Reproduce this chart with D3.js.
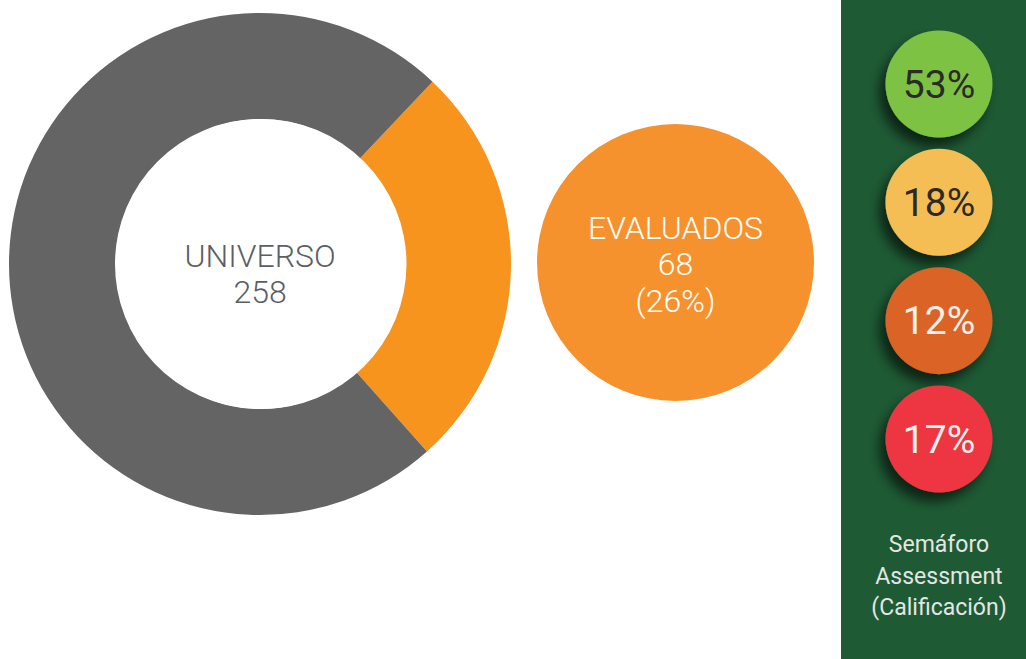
<!DOCTYPE html>
<html><head><meta charset="utf-8">
<script src="https://cdn.jsdelivr.net/npm/d3@7"></script>
<style>html,body{margin:0;padding:0;background:#fff;}svg{display:block;}</style>
</head><body>
<svg id="c" width="1026" height="659"></svg>
<script>
const universoLabel = "UNIVERSO";
const evaluadosLabel = "EVALUADOS";
const universo = 258;
const evaluados = 68;
const semaforoValues = [53, 18, 12, 17];
const semaforoColors = ["#7DC242", "#F4BE55", "#DB6427", "#EE3543"];
const semaforoText = ["#2a2a2a", "#2a2a2a", "#f7f1ec", "#f7f1ec"];
const captionLines = ["Semáforo", "Assessment", "(Calificación)"];

const svg = d3.select("#c");
const font = "Roboto, 'DejaVu Sans', sans-serif";

const defs = svg.append("defs");
const f = defs.append("filter").attr("id","sh").attr("x","-50%").attr("y","-50%").attr("width","200%").attr("height","200%");
f.append("feDropShadow").attr("dx",-6).attr("dy",9).attr("stdDeviation",6)
 .attr("flood-color","#000").attr("flood-opacity",0.6);

// Donut
const cx = 260, cy = 264, R = 251, r = 145;
const rest = universo - evaluados;
const span = evaluados / universo * 2 * Math.PI;
const mid = Math.PI/2 + 0.015;
const pie = d3.pie().sort(null).value(d => d.v)
  .startAngle(mid - span/2).endAngle(mid - span/2 + 2*Math.PI);
const arcs = pie([{k:"ev", v:evaluados, c:"#F7941E"}, {k:"rest", v:rest, c:"#646464"}]);
const arc = d3.arc().innerRadius(r).outerRadius(R);
const g = svg.append("g").attr("transform", `translate(${cx},${cy})`);
g.selectAll("path").data(arcs).join("path").attr("d", arc).attr("fill", d => d.data.c);
svg.append("circle").attr("cx", cx + 1.5).attr("cy", cy).attr("r", r).attr("fill", "#fff");

const tg = svg.append("g").attr("transform", `translate(${cx},${cy})`);
tg.append("text").attr("text-anchor","middle").attr("y", 3)
  .attr("font-family", font).attr("font-weight", 300).attr("font-size", 32).attr("fill","#5b5f64")
  .text(universoLabel);
tg.append("text").attr("text-anchor","middle").attr("y", 39)
  .attr("font-family", font).attr("font-weight", 300).attr("font-size", 32).attr("fill","#5b5f64")
  .text(universo);

// Evaluados circle
const ecx = 675.5, ecy = 262.5, er = 138.5;
const eg = svg.append("g").attr("transform", `translate(${ecx},${ecy})`);
eg.append("circle").attr("r", er).attr("fill", "#F5922E");
const pct = Math.round(evaluados / universo * 100);
[evaluadosLabel, String(evaluados), `(${pct}%)`].forEach((t, i) => {
  eg.append("text").attr("text-anchor","middle").attr("y", -24 + i*36.5)
    .attr("font-family", font).attr("font-weight", 300).attr("font-size", 32).attr("fill","#ffffff")
    .text(t);
});

// Green panel
svg.append("rect").attr("x", 841).attr("y", 0).attr("width", 185).attr("height", 659).attr("fill", "#1E5A34");
const y = d3.scaleLinear().domain([0, 3]).range([84, 439]);
const sg = svg.append("g");
const items = sg.selectAll("g").data(semaforoValues).join("g")
  .attr("transform", (d, i) => `translate(939,${y(i)})`);
items.append("circle").attr("r", 53.5).attr("fill", (d, i) => semaforoColors[i]).attr("filter","url(#sh)");
items.append("text").attr("text-anchor","middle").attr("dy", 13.5)
  .attr("font-family", font).attr("font-weight", 400).attr("font-size", 39)
  .attr("fill", (d, i) => semaforoText[i]).text(d => d + "%");

captionLines.forEach((t, i) => {
  svg.append("text").attr("x", 939).attr("y", 552 + i*31.5).attr("text-anchor","middle")
    .attr("font-family", font).attr("font-weight", 400).attr("font-size", 23).attr("fill","#e3e6e3")
    .text(t);
});
</script>
</body></html>
